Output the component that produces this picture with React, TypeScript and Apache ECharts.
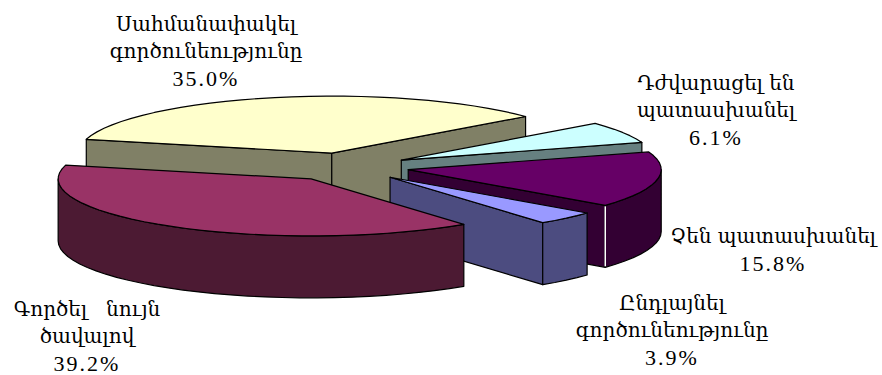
import React, { useEffect, useRef } from "react";
import * as echarts from "echarts";

const sliceNames = [
  "Սահմանափակել\nգործունեությունը",
  "Դժվարացել են\nպատասխանել",
  "Չեն պատասխանել",
  "Ընդլայնել\nգործունեությունը",
  "Գործել\u00A0\u00A0\u00A0նույն\nծավալով",
];
const sliceShares = [35.0, 6.1, 15.8, 3.9, 39.2];

const topColors = ["#FFFFCC", "#CCFFFF", "#660066", "#9999FF", "#993366"];
const wallColors = ["#808066", "#668080", "#330033", "#4C4C80", "#4C1A33"];
const seamColors = ["#000000", "#000000", "#FFFFFF", "#000000", "#000000"];
const labelCentres = [
  [206, 51],
  [716, 110],
  [773, 250],
  [672, 330],
  [87, 336],
];

const CX = 346;
const CY = 167;
const RX = 253;
const RY = 57;
const DEPTH = 62;
const EXPLODE = 0.25;
const START_DEG = 194;
const NAME_FONT = '20px "DejaVu Serif", serif';
const VALUE_FONT = '22px "Liberation Serif", serif';

const rad = (d: number) => (d * Math.PI) / 180;

function renderSlice(params: any, api: any) {
  const i = params.dataIndex;
  const total = sliceShares.reduce((a, b) => a + b, 0);
  let before = 0;
  for (let k = 0; k < i; k++) before += sliceShares[k];
  const share = api.value(0);
  const a0 = START_DEG + (before / total) * 360;
  const a1 = a0 + (share / total) * 360;
  const mid = rad((a0 + a1) / 2);
  const ox = CX + EXPLODE * RX * Math.cos(mid);
  const oy = CY + EXPLODE * RY * Math.sin(mid);
  const pt = (deg: number, drop = 0) => [
    ox + RX * Math.cos(rad(deg)),
    oy + RY * Math.sin(rad(deg)) + drop,
  ];
  const arcPts = (from: number, to: number, drop = 0) => {
    const n = Math.max(2, Math.ceil((to - from) / 4));
    const out: number[][] = [];
    for (let k = 0; k <= n; k++) out.push(pt(from + ((to - from) * k) / n, drop));
    return out;
  };
  const stroke = { stroke: "#000", lineWidth: 1.2, lineJoin: "round" };
  const children: any[] = [];
  const wall = (points: number[][]) =>
    children.push({
      type: "polygon",
      shape: { points },
      style: { fill: wallColors[i], ...stroke },
    });
  const radial = (deg: number) => {
    const p = pt(deg);
    const q = pt(deg, DEPTH);
    wall([[ox, oy], p, q, [ox, oy + DEPTH]]);
  };
  if (Math.cos(rad(a0)) < 0) radial(a0);
  if (Math.cos(rad(a1)) > 0) radial(a1);
  // visible part of the outer rim: the angles that face the viewer
  for (const base of [0, 360]) {
    const lo = Math.max(a0, base);
    const hi = Math.min(a1, base + 180);
    if (hi > lo) {
      wall([...arcPts(lo, hi), ...arcPts(lo, hi, DEPTH).reverse()]);
      if (seamColors[i] !== "#000000") {
        const p = pt(a1);
        children.push({
          type: "line",
          shape: { x1: p[0], y1: p[1] + 1, x2: p[0], y2: p[1] + DEPTH - 1 },
          style: { stroke: seamColors[i], lineWidth: 1.5 },
        });
      }
    }
  }
  children.push({
    type: "polygon",
    shape: { points: [[ox, oy], ...arcPts(a0, a1)] },
    style: { fill: topColors[i], ...stroke },
  });
  const nameLines = sliceNames[i].split("\n").map((l) => `{n|${l}}`);
  children.push({
    type: "text",
    style: {
      text: [...nameLines, `{v|${share.toFixed(1)}%}`].join("\n"),
      x: labelCentres[i][0],
      y: labelCentres[i][1],
      align: "center",
      verticalAlign: "middle",
      fill: "#000",
      rich: {
        n: { font: NAME_FONT, lineHeight: 27.5, fill: "#000" },
        v: { font: VALUE_FONT, lineHeight: 27.5, fill: "#000" },
      },
    },
  });
  return { type: "group", children };
}

export default function App() {
  const ref = useRef<HTMLDivElement>(null);
  useEffect(() => {
    const chart = echarts.init(ref.current!, null, { renderer: "svg" });
    chart.setOption({
      animation: false,
      backgroundColor: "#fff",
      series: [
        {
          type: "custom",
          coordinateSystem: "none",
          silent: true,
          clip: false,
          data: sliceShares.map((v) => [v]),
          renderItem: renderSlice,
        },
      ],
    });
    return () => chart.dispose();
  }, []);
  return (
    <>
      <style>{`text[style*="Liberation"]{letter-spacing:2px}`}</style>
      <div
        ref={ref}
        style={{ position: "absolute", left: 0, top: 0, width: 882, height: 375 }}
      />
    </>
  );
}
